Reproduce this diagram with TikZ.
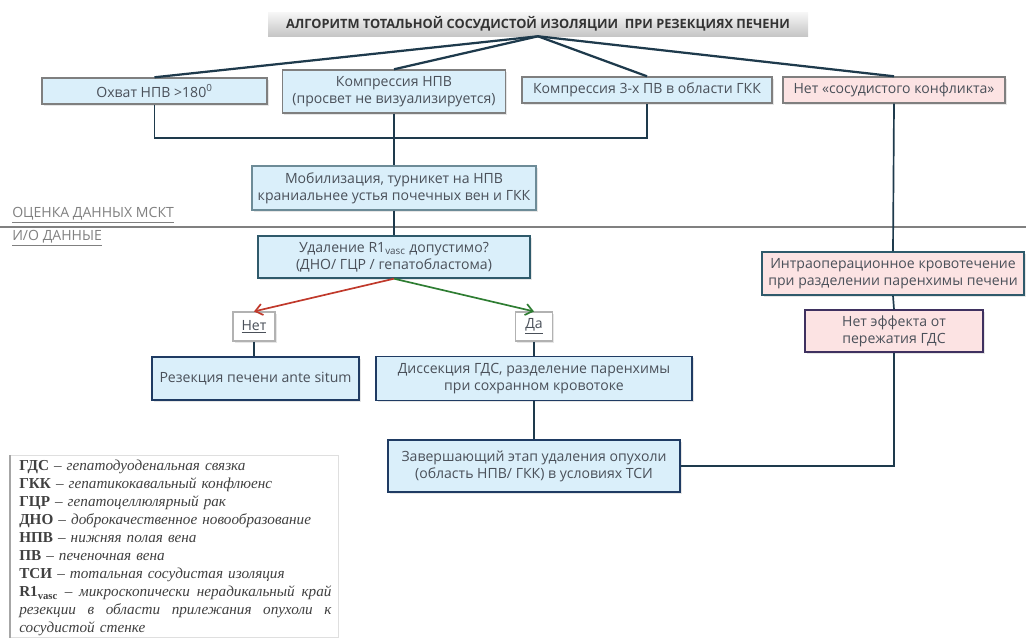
\documentclass[tikz,border=0pt]{standalone}
\usepackage{fontspec}
\setmainfont{Open Sans}
\newfontfamily\legendfont{Liberation Serif}
\usetikzlibrary{arrows.meta,shadows}

\definecolor{bluefill}{HTML}{DAEFFA}
\definecolor{pinkfill}{HTML}{FCE3E3}
\definecolor{graybord}{HTML}{7F7F7F}
\definecolor{tealbord}{HTML}{2F5A6B}
\definecolor{navybord}{HTML}{1F3B63}
\definecolor{plumbord}{HTML}{3F3160}
\definecolor{wire}{HTML}{1E3A4C}
\definecolor{txt}{HTML}{4A5059}
\definecolor{nored}{HTML}{C0392B}
\definecolor{yesgreen}{HTML}{2E7D32}

% one legend line spread over the full width
\newcommand{\fullline}[1]{\makebox[222pt][s]{\spaceskip=0pt\xspaceskip=0pt\relax #1}}

\begin{document}
\begin{tikzpicture}[x=0.025cm, y=-0.025cm, >={Straight Barb[length=5pt,width=8pt]},
    font=\fontsize{10}{12}\selectfont, text=txt,
    wh/.style 2 args={minimum width=#1*0.025cm, minimum height=#2*0.025cm},
    box/.style={rectangle, draw=graybord, line width=1pt, fill=bluefill, align=center, inner sep=0pt,
        drop shadow={opacity=0.2, shadow xshift=1.2pt, shadow yshift=-1.2pt}},
    pinkbox/.style={box, fill=pinkfill},
    tag/.style={box, fill=white, draw=gray!60, line width=0.8pt},
    conn/.style={draw=wire, line width=1.2pt},
    split/.style={draw=wire, line width=1.6pt},
    stage/.style={anchor=west, text=gray, inner sep=0pt}]

    \useasboundingbox (0,0) rectangle (1026,638);

    \node (title) [wh={540}{24}, top color=gray!6, bottom color=gray!45, inner sep=0pt,
        font=\fontsize{9.1}{11}\selectfont\bfseries, text=black!80] at (538,24)
        {АЛГОРИТМ ТОТАЛЬНОЙ СОСУДИСТОЙ ИЗОЛЯЦИИ\ \ ПРИ РЕЗЕКЦИЯХ ПЕЧЕНИ};

    % first row: CT findings
    \node (b1) [box, wh={225}{26}] at (154.5,91) {Охват НПВ >180\textsuperscript{0}};
    \node (b2) [box, wh={223}{43}] at (394,91.5) {Компрессия НПВ\\(просвет не визуализируется)};
    \node (b3) [box, wh={250}{26}] at (647,90) {Компрессия 3-х ПВ в области ГКК};
    \node (b4) [pinkbox, wh={222}{26}] at (894,90) {Нет «сосудистого конфликта»};

    \node (mob) [box, draw=tealbord!70, wh={284}{44}] at (394,188)
        {Мобилизация, турникет на НПВ\\краниальнее устья почечных вен и ГКК};
    \node (r1) [box, draw=tealbord, wh={272}{42}] at (394,257)
        {Удаление R1\textsubscript{vasc} допустимо?\\(ДНО/ ГЦР / гепатобластома)};

    \node (no) [tag, wh={42}{29}] at (254,326.5) {\underline{Нет}};
    \node (yes) [tag, wh={37}{29}] at (534,326.5) {\underline{Да}};

    \node (res) [box, draw=navybord, wh={207}{43}] at (255.5,378.5) {Резекция печени ante situm};
    \node (dis) [box, draw=navybord, wh={316}{44}] at (534,378.5)
        {Диссекция ГДС, разделение паренхимы\\при сохранном кровотоке};
    \node (fin) [box, draw=navybord, wh={292}{52}] at (534,466)
        {Завершающий этап удаления опухоли\\(область НПВ/ ГКК) в условиях ТСИ};

    \node (intra) [pinkbox, draw=tealbord, wh={262}{43}] at (893,273.5)
        {Интраоперационное кровотечение\\при разделении паренхимы печени};
    \node (noeff) [pinkbox, draw=plumbord, wh={178}{42}] at (894,331)
        {Нет эффекта от\\пережатия ГДС};

    % stages
    \draw [gray, line width=2pt] (0,227) -- (1026,227);
    \node (ct) [stage] at (12,215) {\underline{ОЦЕНКА ДАННЫХ МСКТ}};
    \node (io) [stage] at (12,238) {\underline{И/О ДАННЫЕ}};

    \coordinate (join) at (394,138);

    \draw [split] (title.south) -- (b1.north);
    \draw [split] (title.south) -- (b2.north);
    \draw [split] (title.south) -- (b3.north);
    \draw [split] (title.south) -- (b4.north);

    \draw [conn] (b1.south) |- (join) -| (b3.south);
    \draw [conn] (b2.south) -- (mob.north);
    \draw [conn] (mob.south) -- (r1.north);

    \draw [->, nored, line width=1.2pt] (r1.south) -- (no.north);
    \draw [->, yesgreen, line width=1.2pt] (r1.south) -- (yes.north);

    \draw [conn] (no.south) -- (no.south |- res.north);
    \draw [conn] (yes.south) -- (dis.north);
    \draw [conn] (dis.south) -- (fin.north);

    \draw [conn] (b4.south) -- (intra.north);
    \draw [conn] (intra.south) -- (noeff.north);
    \draw [conn] (noeff.south) |- (fin.east);

    % legend
    \node (legbox) [draw=gray!25, fill=white, minimum width=328*0.025cm, minimum height=182*0.025cm,
        anchor=north west, inner sep=0pt] at (10,455) {};
    \draw [gray!70, line width=1.2pt] (legbox.north west) -- (legbox.south west);
    \node (legend) [anchor=north west, text width=222pt, align=left, inner sep=0pt, text=black!75,
        font=\legendfont\fontsize{10.8}{12.8}\selectfont\itshape] at (19,460)
        {\textbf{\upshape ГДС} – гепатодуоденальная связка\\
         \textbf{\upshape ГКК} – гепатикокавальный конфлюенс\\
         \textbf{\upshape ГЦР} – гепатоцеллюлярный рак\\
         \textbf{\upshape ДНО} – доброкачественное новообразование\\
         \textbf{\upshape НПВ} – нижняя полая вена\\
         \textbf{\upshape ПВ} – печеночная вена\\
         \textbf{\upshape ТСИ} – тотальная сосудистая изоляция\\
         \fullline{\textbf{\upshape R1\textsubscript{vasc}} – микроскопически нерадикальный край}\\
         \fullline{резекции в области прилежания опухоли к}\\
         сосудистой стенке};
\end{tikzpicture}
\end{document}
